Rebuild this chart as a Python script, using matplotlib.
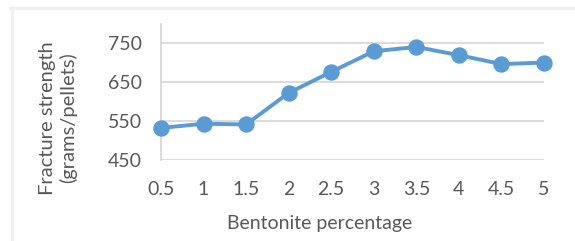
import matplotlib.pyplot as plt
from matplotlib.lines import Line2D

# bentonite percentage vs fracture strength
bentonite = ["0.5", "1", "1.5", "2", "2.5", "3", "3.5", "4", "4.5", "5"]
strength = [533, 544, 542, 623, 677, 730, 741, 720, 697, 701]
yticks = [450, 550, 650, 750]

plt.rcParams['font.family'] = ['Lato', 'DejaVu Sans']
txt = '#595959'
grid = '#d9d9d9'
fs = 14

fig = plt.figure(figsize=(5.75, 2.41), dpi=100)
ax = fig.add_axes([161 / 575, 1 - 160.3 / 241, (544 - 161) / 575, (160.3 - 24) / 241])

x = list(range(len(bentonite)))
ax.plot(x, strength, color='#5b9bd5', lw=2.8, marker='o', ms=10.8, zorder=3, clip_on=False)

ax.set_xlim(0, len(bentonite) - 1)
ax.set_ylim(450, 800)
ax.set_xticks(x)
ax.set_xticklabels(bentonite)
ax.set_yticks(yticks)
for y in yticks:
    ax.axhline(y, color=grid, lw=1.3, zorder=1)

for s in ['top', 'right', 'bottom']:
    ax.spines[s].set_visible(False)
ax.spines['left'].set_color(grid)
ax.spines['left'].set_linewidth(1.3)
ax.tick_params(length=0, labelsize=fs, colors=txt)
ax.tick_params(axis='x', pad=15)
ax.tick_params(axis='y', pad=14)

ax.set_xlabel('Bentonite percentage', fontsize=fs, color=txt)
ax.xaxis.set_label_coords(0.415, -0.40)
ax.set_ylabel('Fracture strength\n(grams/pellets)', fontsize=14.5, color=txt, linespacing=1.15)
ax.yaxis.set_label_coords(-0.22, 0.31)

# light frame of the original chart area
fig.add_artist(Line2D([11.5 / 575, 11.5 / 575], [0, 1 - 7.5 / 241], color='#f0f0f0', lw=2.5,
                      transform=fig.transFigure))
fig.add_artist(Line2D([10 / 575, 1], [1 - 7.5 / 241, 1 - 7.5 / 241], color='#f0f0f0', lw=2.5,
                      transform=fig.transFigure))

fig.savefig('out.png', dpi=100)
